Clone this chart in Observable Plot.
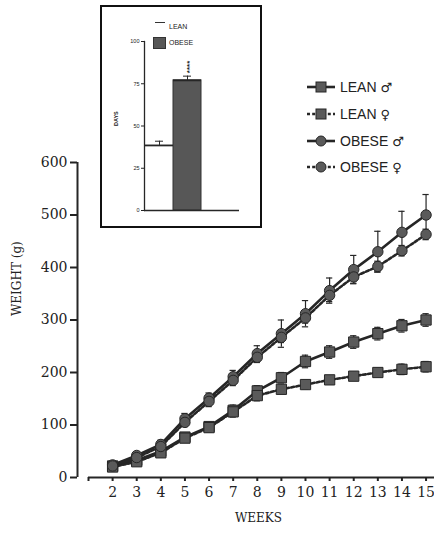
<!DOCTYPE html>
<html><head><meta charset="utf-8">
<script src="https://cdn.jsdelivr.net/npm/d3@7"></script>
<script src="https://cdn.jsdelivr.net/npm/@observablehq/plot@0.6"></script>
<style>
body{margin:0;background:#fff;}
#wrap{position:relative;width:434px;height:534px;overflow:hidden;background:#fff;}
#main{position:absolute;left:0;top:0;}
#inset{position:absolute;left:100px;top:5px;width:158px;height:219px;border:2px solid #111;background:#fff;}
#inset svg{position:absolute;left:0;top:0;}
.leg{position:absolute;left:306px;height:20px;display:flex;align-items:center;font:14px "Liberation Sans",Arial,sans-serif;color:#222;}
.leg svg{margin-right:4px;}
.sex{font-family:"DejaVu Sans",sans-serif;font-size:13px;margin-left:4px;color:#222;}
.ileg{position:absolute;font:7px "Liberation Sans",Arial,sans-serif;color:#222;line-height:8px;}
</style></head>
<body><div id="wrap"><div id="main"></div><div id="inset"></div></div>
<script>
// ---- data ----
const weeks = [2, 3, 4, 5, 6, 7, 8, 9, 10, 11, 12, 13, 14, 15];
const leanMale      = [22, 33, 50, 77, 97, 128, 165, 190, 221, 239, 258, 274, 289, 300];
const leanMaleErr   = [5, 5, 6, 8, 8, 10, 10, 10, 12, 12, 12, 12, 12, 12];
const leanFemale    = [20, 30, 47, 75, 95, 125, 156, 168, 177, 186, 193, 200, 206, 211];
const leanFemaleErr = [4, 5, 6, 7, 8, 10, 10, 8, 8, 8, 8, 8, 10, 10];
const obeseMale     = [24, 42, 63, 112, 151, 192, 236, 274, 312, 356, 396, 430, 467, 500];
const obeseMaleErr  = [6, 6, 8, 10, 10, 12, 15, 26, 25, 24, 27, 39, 40, 39];
const obeseFemale   = [22, 38, 59, 105, 145, 185, 229, 267, 304, 347, 382, 402, 432, 463];
const obeseFemaleErr= [5, 6, 7, 8, 10, 10, 10, 10, 10, 12, 12, 10, 10, 10];
const seriesGroup = ["LEAN", "LEAN", "OBESE", "OBESE"];
const seriesSex = ["♂", "♀", "♂", "♀"];
const seriesNames = seriesGroup.map((g, i) => g + " " + seriesSex[i]);
const yTicks = [0, 100, 200, 300, 400, 500, 600];
const xTicks = [1, 2, 3, 4, 5, 6, 7, 8, 9, 10, 11, 12, 13, 14, 15];

const insetGroups = ["LEAN", "OBESE"];
const insetDays = [38.5, 77];
const insetErr = [2.5, 2.5];
const insetSignif = ["", "****"];
const insetTicks = [0, 25, 50, 75, 100];

// ---- build ----
const seriesValues = [leanMale, leanFemale, obeseMale, obeseFemale];
const seriesErrs = [leanMaleErr, leanFemaleErr, obeseMaleErr, obeseFemaleErr];
const look = {
  "LEAN ♂": {symbol: "square", dash: null},
  "LEAN ♀": {symbol: "square", dash: "3,2.2"},
  "OBESE ♂": {symbol: "circle", dash: null},
  "OBESE ♀": {symbol: "circle", dash: "3,2.2"}
};
const rows = seriesNames.flatMap((name, s) => weeks.map((w, i) => ({
  series: name, week: w, weight: seriesValues[s][i], err: seriesErrs[s][i]
})));
const dark = "#262626", markFill = "#5a5a5a";

const main = Plot.plot({
  width: 434, height: 534,
  marginLeft: 88, marginRight: 0, marginTop: 162, marginBottom: 57,
  x: {domain: [1, 15.35]},
  y: {domain: [0, 600]},
  style: {fontFamily: "'DejaVu Serif', serif", fontSize: "14px", color: "#222", background: "transparent"},
  marks: [
    Plot.ruleX([1], {x: d => d, y1: 0, y2: 600, dx: -11, stroke: dark, strokeWidth: 2}),
    Plot.ruleY([0], {y: d => d, x1: 1, x2: 15.35, stroke: dark, strokeWidth: 2}),
    Plot.axisY({ticks: yTicks, tickSize: 7, tickPadding: 3, dx: -11, label: null, strokeWidth: 2}),
    Plot.axisX({ticks: xTicks, tickFormat: d => d === 1 ? "" : String(d), tickSize: 4, tickPadding: 6, label: null, strokeWidth: 2}),
    ...seriesNames.map(name => Plot.line(rows.filter(r => r.series === name), {
      x: "week", y: "weight", stroke: dark, strokeWidth: 2.6, strokeDasharray: look[name].dash
    })),
    Plot.ruleX(rows, {x: "week", y1: d => d.weight - d.err, y2: d => d.weight + d.err, stroke: dark, strokeWidth: 1.2}),
    Plot.ruleY(rows, {y: d => d.weight + d.err, x1: d => d.week - 0.13, x2: d => d.week + 0.13, stroke: dark, strokeWidth: 1.2}),
    Plot.ruleY(rows, {y: d => d.weight - d.err, x1: d => d.week - 0.13, x2: d => d.week + 0.13, stroke: dark, strokeWidth: 1.2}),
    Plot.dot(rows.filter(r => look[r.series].symbol === "square"), {x: "week", y: "weight", symbol: "square", r: 5.8, fill: markFill, stroke: dark, strokeWidth: 1}),
    Plot.dot(rows.filter(r => look[r.series].symbol === "circle"), {x: "week", y: "weight", symbol: "circle", r: 5.2, fill: markFill, stroke: dark, strokeWidth: 1}),
    Plot.text(["WEIGHT (g)"], {text: d => d, frameAnchor: "left", dx: -71, dy: -4, rotate: -90, fontSize: 12, fill: "#222"}),
    Plot.text(["WEEKS"], {text: d => d, frameAnchor: "bottom", dy: 44, dx: -3, fontSize: 12, fill: "#222"})
  ]
});
document.getElementById("main").appendChild(main);

// main legend
const legY = [87, 114, 141, 167];
seriesNames.forEach((name, i) => {
  const div = document.createElement("div");
  div.className = "leg";
  div.style.top = (legY[i] - 10) + "px";
  const sym = look[name].symbol === "square"
    ? `<rect x="10" y="5" width="10" height="10" fill="${markFill}" stroke="${dark}"/>`
    : `<circle cx="15" cy="10" r="5" fill="${markFill}" stroke="${dark}"/>`;
  div.innerHTML = `<svg width="30" height="20"><line x1="1" y1="10" x2="29" y2="10" stroke="${dark}" stroke-width="2.6" ${look[name].dash ? `stroke-dasharray="${look[name].dash}"` : ""}/>${sym}</svg><span>${seriesGroup[i]}</span><span class="sex">${seriesSex[i]}\uFE0E</span>`;
  document.getElementById("wrap").appendChild(div);
});

// inset
const insetRows = insetGroups.map((g, i) => ({group: g, days: insetDays[i], err: insetErr[i], sig: insetSignif[i]}));
const insetFill = {LEAN: "#ffffff", OBESE: "#575757"};
const inset = Plot.plot({
  width: 158, height: 219,
  marginLeft: 42, marginRight: 21, marginTop: 34, marginBottom: 16,
  x: {type: "band", domain: insetGroups, range: [43, 99], padding: 0, axis: null},
  y: {domain: [0, 100]},
  color: {type: "identity"},
  style: {fontFamily: "'Liberation Sans', Arial, sans-serif", fontSize: "5.5px", color: "#222", background: "transparent"},
  marks: [
    Plot.barY(insetRows, {x: "group", y: "days", fill: d => insetFill[d.group], stroke: d => d.group === "OBESE" ? "#333" : "none"}),
    Plot.tickY(insetRows, {x: "group", y: "days", stroke: dark, strokeWidth: 1.8}),
    Plot.ruleX(insetRows, {x: "group", y1: "days", y2: d => d.days + d.err, stroke: dark, strokeWidth: 1}),
    Plot.tickY(insetRows, {x: "group", y: d => d.days + d.err, insetLeft: 10, insetRight: 10, stroke: dark, strokeWidth: 1}),
    Plot.text(insetRows, {x: "group", y: d => d.days + d.err, text: "sig", rotate: -90, textAnchor: "start", dy: -3, dx: 1.5, fontSize: 8, fontWeight: "bold", fill: "#222"}),
    Plot.frame({anchor: "left", stroke: dark, strokeWidth: 1.3}),
    Plot.ruleY([0], {stroke: dark, strokeWidth: 1.5}),
    Plot.axisY({ticks: insetTicks, tickSize: 3, tickPadding: 2, label: null}),
    Plot.text(["DAYS"], {text: d => d, frameAnchor: "left", dx: -28, rotate: -90, fontSize: 5.5, fontWeight: "bold", fill: "#222"})
  ]
});
const insetDiv = document.getElementById("inset");
insetDiv.appendChild(inset);
insetDiv.insertAdjacentHTML("beforeend",
  `<div class="ileg" style="left:53px;top:12px;">` +
  `<span style="position:absolute;left:0;top:3px;width:10px;border-top:1px solid #333;"></span>` +
  `<span style="position:absolute;left:14px;top:4px;">${insetGroups[0]}</span></div>` +
  `<div class="ileg" style="left:51px;top:30px;">` +
  `<span style="position:absolute;left:0;top:0;width:13px;height:12px;background:${insetFill.OBESE};border:1px solid #333;box-sizing:border-box;"></span>` +
  `<span style="position:absolute;left:16px;top:2px;">${insetGroups[1]}</span></div>`);
</script>
</body></html>
